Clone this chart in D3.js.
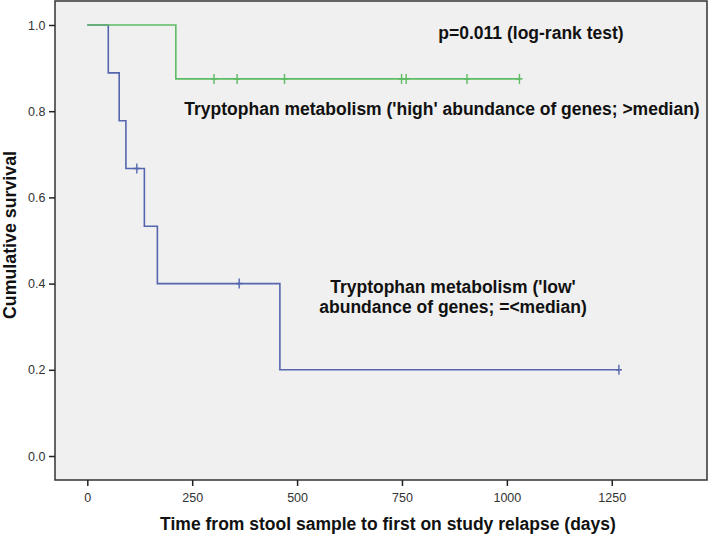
<!DOCTYPE html>
<html><head><meta charset="utf-8">
<script src="https://cdn.jsdelivr.net/npm/d3@7"></script>
<style>body{margin:0;background:#fff}svg{display:block}</style>
</head><body>
<script>
// Data
const xTicks = [0, 250, 500, 750, 1000, 1250];
const yTicks = [0.0, 0.2, 0.4, 0.6, 0.8, 1.0];

// Low abundance group (blue): step times and survival after each step
const lowTimes = [0, 50, 76, 92, 136, 167, 459];
const lowSurv  = [1.0, 0.889, 0.778, 0.667, 0.533, 0.4, 0.2];
const lowEnd = 1267;
const lowCensorTimes = [118, 362, 1267];
const lowCensorSurv  = [0.667, 0.4, 0.2];

// High abundance group (green)
const highTimes = [0, 211];
const highSurv  = [1.0, 0.875];
const highEnd = 1030;
const highCensorTimes = [302, 357, 470, 749, 760, 905, 1030];
const highCensorSurv  = [0.875, 0.875, 0.875, 0.875, 0.875, 0.875, 0.875];

const W = 709, H = 537;
const L = 55, R = 707, T = 1, B = 480;
const svg = d3.select("body").append("svg").attr("width", W).attr("height", H);

const x = d3.scaleLinear().domain([-77, 1477]).range([L, R]);
const y = d3.scaleLinear().domain([0, 1]).range([456, 25]);

svg.append("rect").attr("x", L).attr("y", T).attr("width", R - L).attr("height", B - T)
  .attr("fill", "#f0f0f0").attr("stroke", "#333").attr("stroke-width", 1.5);

const font = "'Liberation Sans', Arial, sans-serif";

const xAxis = svg.append("g").attr("transform", `translate(0,${B})`)
  .call(d3.axisBottom(x).tickValues(xTicks).tickSize(6).tickSizeOuter(0).tickFormat(d3.format("d")));
xAxis.select(".domain").remove();
xAxis.selectAll("line").attr("stroke", "#222").attr("stroke-width", 1.5);
xAxis.selectAll("text").attr("font-family", font).attr("font-size", 12.5).attr("fill", "#333").attr("dy", "1.05em");

const yAxis = svg.append("g").attr("transform", `translate(${L},0)`)
  .call(d3.axisLeft(y).tickValues(yTicks).tickSize(6).tickSizeOuter(0).tickFormat(d3.format(".1f")));
yAxis.select(".domain").remove();
yAxis.selectAll("line").attr("stroke", "#222").attr("stroke-width", 1.5);
yAxis.selectAll("text").attr("font-family", font).attr("font-size", 12.5).attr("fill", "#333").attr("dx", "-0.05em");

function stepPath(times, surv, end) {
  const pts = times.map((t, i) => ({t, s: surv[i]}));
  pts.push({t: end, s: surv[surv.length - 1]});
  return d3.line().x(d => x(d.t)).y(d => y(d.s)).curve(d3.curveStepAfter)(pts);
}

function drawGroup(times, surv, end, cT, cS, color) {
  svg.append("path").attr("d", stepPath(times, surv, end))
    .attr("fill", "none").attr("stroke", color).attr("stroke-width", 1.6);
  svg.append("g").selectAll("line").data(cT.map((t, i) => ({t, s: cS[i]}))).join("line")
    .attr("x1", d => x(d.t)).attr("x2", d => x(d.t))
    .attr("y1", d => y(d.s) - 5).attr("y2", d => y(d.s) + 5)
    .attr("stroke", color).attr("stroke-width", 1.4);
  svg.append("g").selectAll("line").data(cT.map((t, i) => ({t, s: cS[i]}))).join("line")
    .attr("x1", d => x(d.t) - 3).attr("x2", d => x(d.t) + 3)
    .attr("y1", d => y(d.s)).attr("y2", d => y(d.s))
    .attr("stroke", color).attr("stroke-width", 1.6);
}

drawGroup(lowTimes, lowSurv, lowEnd, lowCensorTimes, lowCensorSurv, "#5566ae");
drawGroup(highTimes, highSurv, highEnd, highCensorTimes, highCensorSurv, "#5dbb63");

const lab = (txt, cx, cy, size, anchor) => svg.append("text").text(txt)
  .attr("x", cx).attr("y", cy).attr("font-family", font).attr("font-weight", "bold")
  .attr("font-size", size).attr("fill", "#111").attr("text-anchor", anchor || "middle")
  .attr("dominant-baseline", "central");

lab("p=0.011 (log-rank test)", 531, 33, 17.5);
lab("Tryptophan metabolism ('high' abundance of genes; >median)", 442, 109, 17.5);
lab("Tryptophan metabolism ('low'", 453, 287, 17.5);
lab("abundance of genes; =<median)", 453, 307, 17.5);

lab("Time from stool sample to first on study relapse (days)", 388, 524, 17.5);
svg.append("text").text("Cumulative survival")
  .attr("transform", "translate(10,235) rotate(-90)")
  .attr("font-family", font).attr("font-weight", "bold").attr("font-size", 17.8)
  .attr("fill", "#111").attr("text-anchor", "middle").attr("dominant-baseline", "central");
</script>
</body></html>
